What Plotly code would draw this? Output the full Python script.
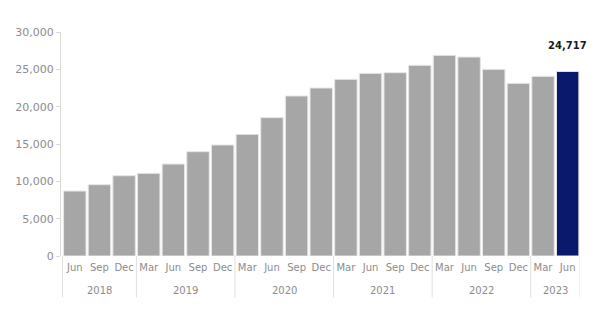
import plotly.graph_objects as go

years = ["2018"] * 3 + ["2019"] * 4 + ["2020"] * 4 + ["2021"] * 4 + ["2022"] * 4 + ["2023"] * 2
months = ["Jun", "Sep", "Dec"] + ["Mar", "Jun", "Sep", "Dec"] * 4 + ["Mar", "Jun"]
values = [8700, 9550, 10750, 11070, 12320, 13970, 14870, 16290, 18530, 21430,
          22500, 23660, 24460, 24550, 25540, 26870, 26650, 25000, 23120, 24060, 24717]

GREY = "#a6a6a6"
NAVY = "#0a196b"
LABEL = "#8c8c8c"
DIV = "#e0e0e0"
colors = [GREY] * (len(values) - 1) + [NAVY]

keys = [f"{m} {y}" for y, m in zip(years, months)]

fig = go.Figure()
fig.add_trace(go.Bar(
    x=keys,
    y=values,
    marker=dict(color=colors, line=dict(color="#e6e6e6", width=1)),
    hoverinfo="skip",
))

last = len(values) - 1
fig.add_annotation(
    x=keys[last], y=values[last], xref="x", yref="y",
    text="<b>{:,}</b>".format(values[last]),
    showarrow=False, yshift=26,
    font=dict(family="DejaVu Sans", size=10, color="#1a1a1a"),
)

# year group labels and dividers
groups = []
for i, y in enumerate(years):
    if not groups or groups[-1][0] != y:
        groups.append([y, i, i])
    else:
        groups[-1][2] = i

for y, i0, i1 in groups:
    fig.add_annotation(
        x=(i0 + i1) / 2, y=-0.152, xref="x", yref="paper",
        yanchor="middle",
        text=y, showarrow=False,
        font=dict(family="DejaVu Sans", size=10, color=LABEL),
    )
    fig.add_shape(type="line", xref="x", yref="paper",
                  x0=i0 - 0.5, x1=i0 - 0.5, y0=0, y1=-0.185,
                  line=dict(color=DIV, width=1))
fig.add_shape(type="line", xref="x", yref="paper",
              x0=last + 0.5, x1=last + 0.5, y0=0, y1=-0.185,
              line=dict(color=DIV, width=1))

fig.update_layout(
    width=600, height=322,
    margin=dict(l=61, r=20, t=32, b=66, autoexpand=False),
    paper_bgcolor="white", plot_bgcolor="white",
    bargap=0.09,
    showlegend=False,
    font=dict(family="DejaVu Sans", size=11, color=LABEL),
)
fig.update_yaxes(
    range=[0, 30000], tickvals=[0, 5000, 10000, 15000, 20000, 25000, 30000],
    tickformat=",", showgrid=False, zeroline=False,
    showline=True, linecolor="#d9d9d9", linewidth=1,
    ticks="outside", ticklen=4, tickcolor="#d9d9d9",
    tickfont=dict(size=11, color=LABEL),
)
fig.update_xaxes(
    type="category", range=[-0.56, last + 0.5],
    tickvals=keys, ticktext=months,
    showgrid=False, showline=False, automargin=False,
    tickfont=dict(size=10, color=LABEL), tickangle=0,
    ticks="", ticklabelstandoff=4,
)

fig.write_html("out.html")
